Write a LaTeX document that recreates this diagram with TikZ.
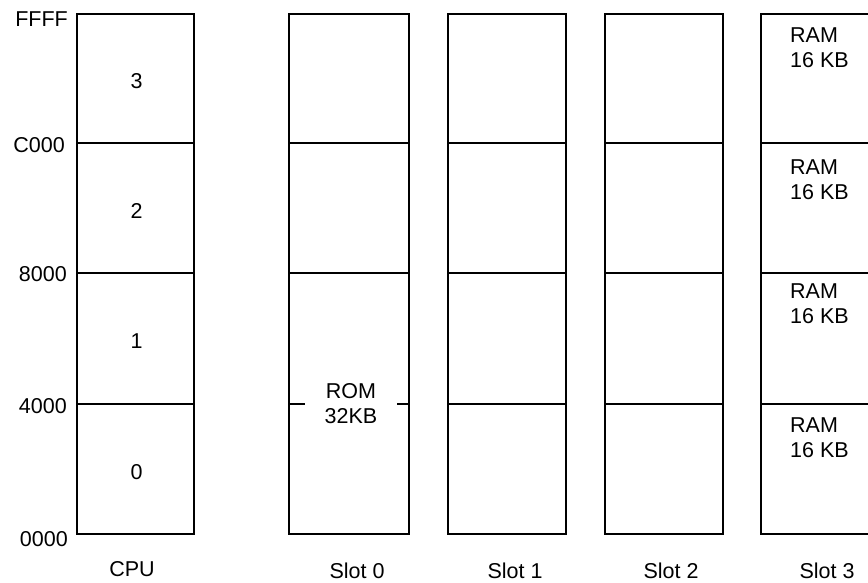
\documentclass[tikz,border=0pt]{standalone}
\usepackage{fontspec}
\setmainfont{Liberation Sans}
\usetikzlibrary{calc}
\begin{document}
\begin{tikzpicture}[x=1pt,y=-1pt,
  cell/.style={draw,line width=1.7pt,rectangle,inner sep=0pt,outer sep=0pt,anchor=north west,minimum width=#1},
  cell/.default=117,
  lab/.style={inner sep=0pt,font=\fontsize{21.5}{25}\selectfont},
  outer/.style={line width=2.3pt,line cap=rect}]
\useasboundingbox (0,0) rectangle (868,583);
\clip (0,0) rectangle (868,583);
% CPU column
\node[cell=117,minimum height=129] (c3) at (77,14) {};
\node[cell=117,minimum height=130] (c2) at (77,143) {};
\node[cell=117,minimum height=131] (c1) at (77,273) {};
\node[cell=117,minimum height=130] (c0) at (77,404) {};
\node[lab] (n3) at ($(c3.center)+(1,3)$) {3};
\node[lab] (n2) at ($(c2.center)+(1,3)$) {2};
\node[lab] (n1) at ($(c1.center)+(1,3)$) {1};
\node[lab] (n0) at ($(c0.center)+(1,3)$) {0};
\draw[outer] (c3.north west) rectangle (c0.south east);
% address labels
\node[lab,anchor=east] (aF) at (68,19) {FFFF};
\node[lab,anchor=east] (aC) at (65,145) {C000};
\node[lab,anchor=east] (a8) at (67,274) {8000};
\node[lab,anchor=east] (a4) at (67,406) {4000};
\node[lab,anchor=east] (a0) at (68,539) {0000};
% Slot 0
\node[cell=120,minimum height=129] (s03) at (289,14) {};
\node[cell=120,minimum height=130] (s02) at (289,143) {};
\node[cell=120,minimum height=261] (s0r) at (289,273) {};
\draw[outer] (s03.north west) rectangle (s0r.south east);
\node[lab,align=center] (rom) at (351,404) {ROM\\32KB};
\coordinate (tl) at (s0r.west |- 0,404);
\coordinate (tr) at (s0r.east |- 0,404);
\draw[line width=1.7pt] (tl) -- ++(16,0);
\draw[line width=1.7pt] (tr) -- ++(-12,0);
% Slot 1
\node[cell=118,minimum height=129] (s13) at (448,14) {};
\node[cell=118,minimum height=130] (s12) at (448,143) {};
\node[cell=118,minimum height=131] (s11) at (448,273) {};
\node[cell=118,minimum height=130] (s10) at (448,404) {};
\draw[outer] (s13.north west) rectangle (s10.south east);
% Slot 2
\node[cell=118,minimum height=129] (s23) at (605,14) {};
\node[cell=118,minimum height=130] (s22) at (605,143) {};
\node[cell=118,minimum height=131] (s21) at (605,273) {};
\node[cell=118,minimum height=130] (s20) at (605,404) {};
\draw[outer] (s23.north west) rectangle (s20.south east);
% Slot 3
\node[cell=118,minimum height=129] (s33) at (761,14) {};
\node[cell=118,minimum height=130] (s32) at (761,143) {};
\node[cell=118,minimum height=131] (s31) at (761,273) {};
\node[cell=118,minimum height=130] (s30) at (761,404) {};
\draw[outer] (s33.north west) rectangle (s30.south east);
\node[lab,align=left,anchor=north west] (r3) at (790,28) {RAM\\16 KB};
\node[lab,align=left,anchor=north west] (r2) at (790,160) {RAM\\16 KB};
\node[lab,align=left,anchor=north west] (r1) at (790,284) {RAM\\16 KB};
\node[lab,align=left,anchor=north west] (r0) at (790,418) {RAM\\16 KB};
% bottom labels
\node[lab] (lcpu) at (132,569) {CPU};
\node[lab] (l0) at (357,571) {Slot 0};
\node[lab] (l1) at (515,571) {Slot 1};
\node[lab] (l2) at (671,571) {Slot 2};
\node[lab] (l3) at (827,571) {Slot 3};
\end{tikzpicture}
\end{document}
